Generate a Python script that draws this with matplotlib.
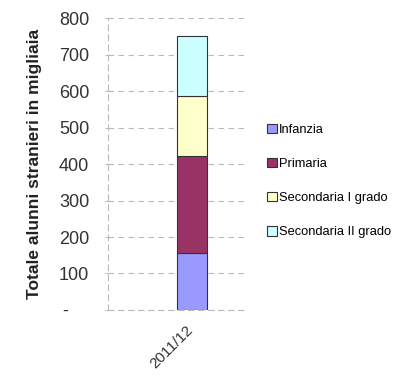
import matplotlib
matplotlib.use("Agg")
import matplotlib.pyplot as plt
from matplotlib.patches import Patch
from matplotlib.transforms import ScaledTranslation

categories = ["2011/12"]
series = ["Infanzia", "Primaria", "Secondaria I grado", "Secondaria II grado"]
values = {
    "Infanzia": [156],
    "Primaria": [266],
    "Secondaria I grado": [164],
    "Secondaria II grado": [164],
}
colors = ["#9999FF", "#993366", "#FFFFCC", "#CCFFFF"]
yticks = [0, 100, 200, 300, 400, 500, 600, 700, 800]
ytick_labels = ["-    ", "100", "200", "300", "400", "500", "600", "700", "800"]

plt.rcParams['font.family'] = ['Liberation Sans', 'DejaVu Sans']

fig = plt.figure(figsize=(3.97, 3.86), dpi=100)
ax = fig.add_axes([0.272, 0.197, 0.345, 0.756])

x = list(range(len(categories)))
bottom = [0] * len(categories)
for s, c in zip(series, colors):
    ax.bar(x, values[s], bottom=bottom, width=1.0, color=c, edgecolor="#333333",
           linewidth=0.8, zorder=3)
    bottom = [b + v for b, v in zip(bottom, values[s])]

ax.set_xlim(-2.8, 1.77)
ax.set_ylim(0, 800)
ax.set_yticks(yticks)
ax.set_yticklabels(ytick_labels, fontsize=13, color="#333333")
ax.set_xticks(x)
ax.set_xticklabels(categories, rotation=45, ha="right", rotation_mode="anchor",
                   fontsize=11, color="#333333")
ax.tick_params(axis="x", length=0, pad=9)
ax.tick_params(axis="y", length=5, direction="inout", color="#bbbbbb", pad=11)
for lbl in ax.get_xticklabels():
    lbl.set_transform(lbl.get_transform() + ScaledTranslation(-6 / 100, 0, fig.dpi_scale_trans))

for sp in ["top", "right"]:
    ax.spines[sp].set_visible(False)
for sp in ["left", "bottom"]:
    ax.spines[sp].set_color("#bbbbbb")
    ax.spines[sp].set_linestyle((0, (5, 4)))
    ax.spines[sp].set_linewidth(0.8)

ax.yaxis.grid(True, color="#bbbbbb", linestyle=(0, (5, 4)), linewidth=0.8, zorder=0)
ax.set_axisbelow(True)

ax.set_ylabel("Totale alunni stranieri in migliaia", fontsize=12.5, fontweight="bold",
              color="#222222", labelpad=12)

handles = [Patch(facecolor=c, edgecolor="#333333", linewidth=0.8) for c in colors]
fig.legend(handles, series, loc="upper left", bbox_to_anchor=(0.643, 0.71),
           frameon=False, handlelength=0.75, handleheight=0.75,
           handletextpad=0.2, labelspacing=1.7,
           prop={'family': ['Liberation Sans'], 'size': 9.3})

fig.savefig("out.png", dpi=100)
